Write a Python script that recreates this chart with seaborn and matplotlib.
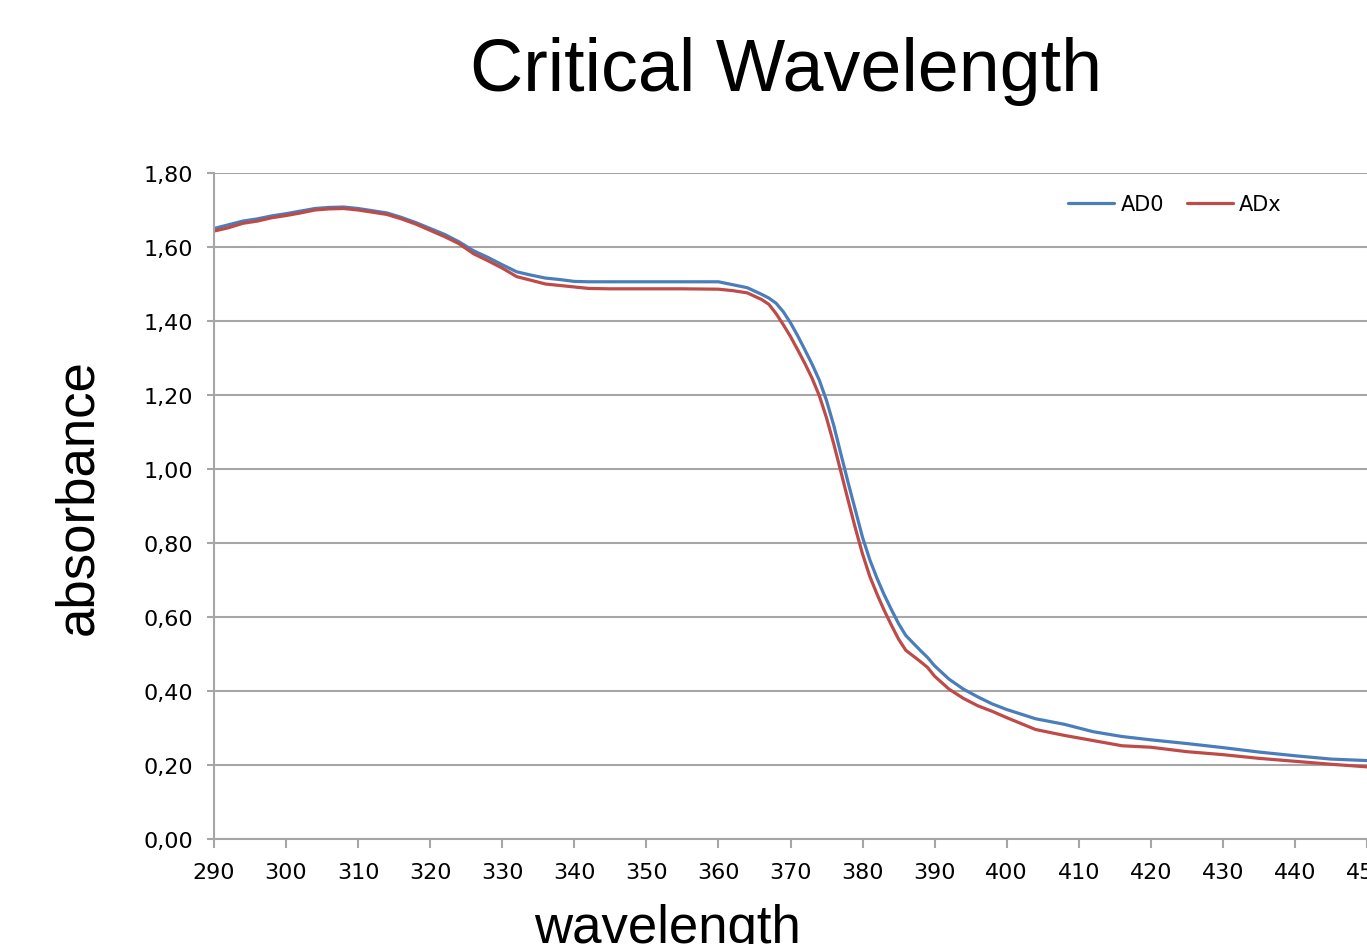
import pandas as pd
import seaborn as sns
import matplotlib
matplotlib.use("Agg")
import matplotlib.pyplot as plt
from matplotlib.ticker import FuncFormatter, MultipleLocator

# data
wavelength = [290, 292, 294, 296, 298, 300, 302, 304, 306, 308, 310, 312, 314, 316, 318,
              320, 322, 324, 326, 328, 330, 332, 334, 336, 338, 340, 342, 345, 350, 355,
              360, 362, 364, 366, 367, 368, 369, 370, 371, 372, 373, 374, 375, 376, 377,
              378, 379, 380, 381, 382, 383, 384, 385, 386, 387, 388, 389, 390, 392, 394,
              396, 398, 400, 404, 408, 412, 416, 420, 425, 430, 435, 440, 445, 450]
ad0 = [1.650, 1.660, 1.670, 1.676, 1.684, 1.690, 1.697, 1.704, 1.707, 1.708, 1.704, 1.698,
       1.692, 1.680, 1.666, 1.650, 1.634, 1.614, 1.590, 1.572, 1.552, 1.533, 1.524, 1.516,
       1.512, 1.507, 1.506, 1.506, 1.506, 1.506, 1.506, 1.498, 1.490, 1.472, 1.462, 1.448,
       1.425, 1.395, 1.360, 1.322, 1.283, 1.240, 1.185, 1.118, 1.040, 0.963, 0.889, 0.815,
       0.755, 0.705, 0.660, 0.620, 0.582, 0.550, 0.530, 0.510, 0.491, 0.468, 0.432, 0.405,
       0.384, 0.365, 0.350, 0.325, 0.310, 0.290, 0.277, 0.268, 0.258, 0.247, 0.235, 0.225,
       0.216, 0.212]
adx = [1.643, 1.652, 1.664, 1.670, 1.679, 1.685, 1.692, 1.700, 1.703, 1.704, 1.700, 1.694,
       1.688, 1.676, 1.662, 1.645, 1.628, 1.609, 1.582, 1.563, 1.543, 1.520, 1.510, 1.500,
       1.496, 1.492, 1.488, 1.487, 1.487, 1.487, 1.486, 1.482, 1.476, 1.458, 1.445, 1.420,
       1.390, 1.358, 1.322, 1.285, 1.245, 1.198, 1.138, 1.068, 0.992, 0.915, 0.840, 0.770,
       0.710, 0.662, 0.618, 0.578, 0.540, 0.510, 0.495, 0.480, 0.464, 0.440, 0.405, 0.380,
       0.360, 0.345, 0.328, 0.296, 0.280, 0.266, 0.252, 0.248, 0.236, 0.228, 0.218, 0.210,
       0.202, 0.195]
series_names = ["AD0", "ADx"]
series_colors = ["#4a7ebb", "#be4b48"]

df = pd.concat([
    pd.DataFrame({"wavelength": wavelength, "absorbance": ad0, "series": "AD0"}),
    pd.DataFrame({"wavelength": wavelength, "absorbance": adx, "series": "ADx"}),
])

sns.set_style("white")
plt.rcParams["font.family"] = ["DejaVu Sans"]
plt.rcParams["text.color"] = "black"
plt.rcParams["xtick.labelcolor"] = "black"
plt.rcParams["ytick.labelcolor"] = "black"

fig = plt.figure(figsize=(13.67, 9.45), dpi=100)
ax = fig.add_axes([214 / 1367, 105 / 945, 1153 / 1367, 666 / 945])

sns.lineplot(data=df, x="wavelength", y="absorbance", hue="series",
             palette=dict(zip(series_names, series_colors)), linewidth=2.3, ax=ax)

ax.set_xlim(290, 450)
ax.set_ylim(0, 1.8)
ax.xaxis.set_major_locator(MultipleLocator(10))
ax.yaxis.set_major_locator(MultipleLocator(0.2))
ax.yaxis.set_major_formatter(FuncFormatter(lambda v, p: f"{v:.2f}".replace(".", ",")))
ax.set_xlabel("")
ax.set_ylabel("")

grey = "#a6a6a6"
ax.grid(axis="y", color=grey, linewidth=1.5)
ax.grid(axis="x", visible=False)
for side in ["top", "right"]:
    ax.spines[side].set_visible(False)
for side in ["left", "bottom"]:
    ax.spines[side].set_color(grey)
    ax.spines[side].set_linewidth(1.5)
ax.tick_params(axis="x", direction="out", length=6.5, width=1.5, color=grey,
               labelsize=16, pad=10, bottom=True, labelcolor="black")
ax.tick_params(axis="y", direction="out", length=5, width=1.5, color=grey,
               labelsize=16, pad=10, left=True, labelcolor="black")

ax.legend(ncol=2, frameon=False, fontsize=15, loc="center left",
          bbox_to_anchor=(1058 / 1367, 1 - 205 / 945), bbox_transform=fig.transFigure,
          borderpad=0, handlelength=2.2, handletextpad=0.3, columnspacing=1.1)
for line in ax.get_legend().get_lines():
    line.set_linewidth(2.3)

fig.text(786 / 1367, 1 - 72 / 945, "Critical Wavelength", fontsize=53,
         family="Liberation Sans", ha="center", va="center", color="black")
fig.text(78 / 1367, 1 - 497 / 945, "absorbance", fontsize=38, rotation=90,
         family="Liberation Sans", ha="center", va="center", color="black")
fig.text(667 / 1367, 0.002, "wavelength", fontsize=38,
         family="Liberation Sans", ha="center", va="baseline", color="black")

plt.savefig("out.png", dpi=100)
